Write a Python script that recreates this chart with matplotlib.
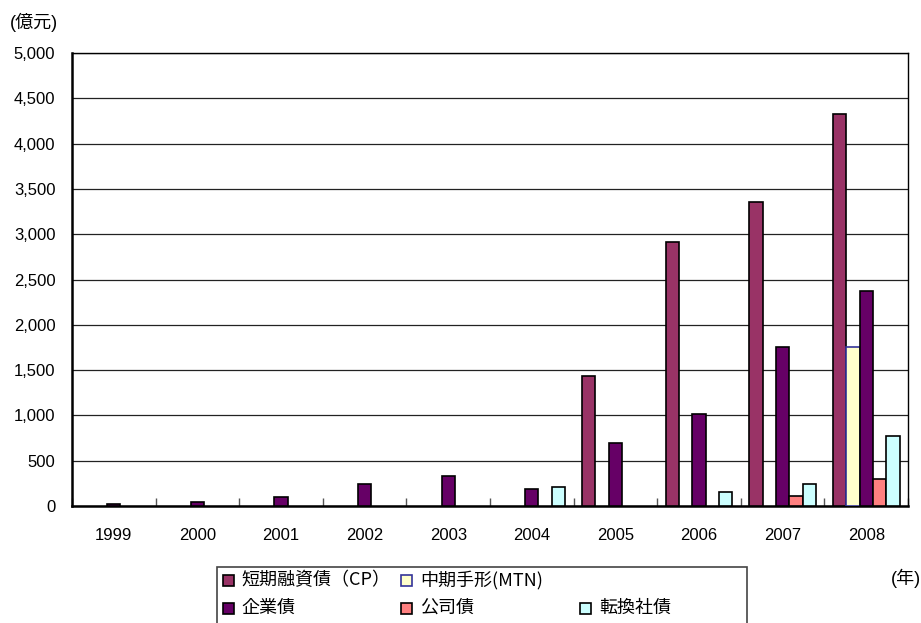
import numpy as np
import matplotlib
matplotlib.use("Agg")
from matplotlib import pyplot as plt
from matplotlib.patches import Rectangle

plt.rcParams['font.family'] = ['Liberation Sans', 'Noto Sans CJK JP', 'DejaVu Sans']

# Bond issuance by year (100 million yuan)
years = ["1999", "2000", "2001", "2002", "2003", "2004", "2005", "2006", "2007", "2008"]
cp = [0, 0, 0, 0, 0, 0, 1430, 2910, 3350, 4330]
mtn = [0, 0, 0, 0, 0, 0, 0, 0, 0, 1750]
corporate = [20, 45, 100, 240, 330, 190, 700, 1010, 1760, 2370]
company = [0, 0, 0, 0, 0, 0, 0, 0, 115, 300]
convertible = [0, 0, 0, 0, 0, 210, 0, 150, 245, 775]

names = ["短期融資債（CP）", "中期手形(MTN)", "企業債", "公司債", "転換社債"]
values = [cp, mtn, corporate, company, convertible]
colors = ["#993366", "#FFFFCC", "#660066", "#FF8080", "#CCFFFF"]
edges = ["black", "#333399", "black", "black", "black"]

W, H = 921, 623
fig = plt.figure(figsize=(W / 100, H / 100), dpi=100)
ax = fig.add_axes([72 / W, 1 - 506 / H, (908 - 72) / W, (506 - 53) / H])

x = np.arange(len(years))
width = 0.16
for i in range(len(names)):
    vals = np.array(values[i], dtype=float)
    pos = x + (i - 2) * width
    mask = vals > 0
    ax.bar(pos[mask], vals[mask], width, color=colors[i], edgecolor=edges[i],
           linewidth=1.2, zorder=3)

ax.set_xlim(-0.5, len(years) - 0.5)
ax.set_ylim(0, 5000)
ax.set_yticks(np.arange(0, 5001, 500))
ax.set_yticklabels([f"{v:,}" for v in range(0, 5001, 500)], fontsize=12)
ax.yaxis.grid(True, color="#222222", linewidth=0.9, zorder=0)

ax.set_xticks(x)
ax.set_xticklabels(years, fontsize=12)
ax.tick_params(axis="x", length=0, pad=16)
# small ticks between categories, pointing up
ax.set_xticks(np.arange(-0.5, len(years)), minor=True)
ax.tick_params(axis="x", which="minor", direction="in", length=6, width=1, color="#555555")
ax.tick_params(axis="y", length=0, pad=12)

for s in ax.spines.values():
    s.set_linewidth(1)
ax.spines["left"].set_linewidth(1.8)
ax.spines["bottom"].set_linewidth(1.8)

fig.text(10 / W, 1 - 22 / H, "(億元)", fontsize=13, va="center", ha="left")
fig.text(921 / W, 1 - 578 / H, "(年)", fontsize=13, va="center", ha="right")


def px(xp, yp):
    return xp / W, 1 - yp / H


# legend box (runs off the bottom edge)
lx0, ly0, lx1 = 216.5, 567, 747
fig.add_artist(Rectangle(px(lx0, ly0 + 70), (lx1 - lx0) / W, 70 / H,
                         transform=fig.transFigure, facecolor="white",
                         edgecolor="#444444", linewidth=1.2))
# slots: (column x, row y) for each series
slots = [(222.5, 580), (401, 580), (222.5, 608), (401, 608), (580, 608)]
sq = 11
for i, (sx, sy) in enumerate(slots):
    fig.add_artist(Rectangle(px(sx, sy + sq / 2), sq / W, sq / H,
                             transform=fig.transFigure, facecolor=colors[i],
                             edgecolor=edges[i], linewidth=1.2))
    fig.text(*px(sx + 19, sy), names[i], fontsize=13, va="center", ha="left",
             family=['Noto Sans CJK JP'])

fig.savefig("out.png", dpi=100)
